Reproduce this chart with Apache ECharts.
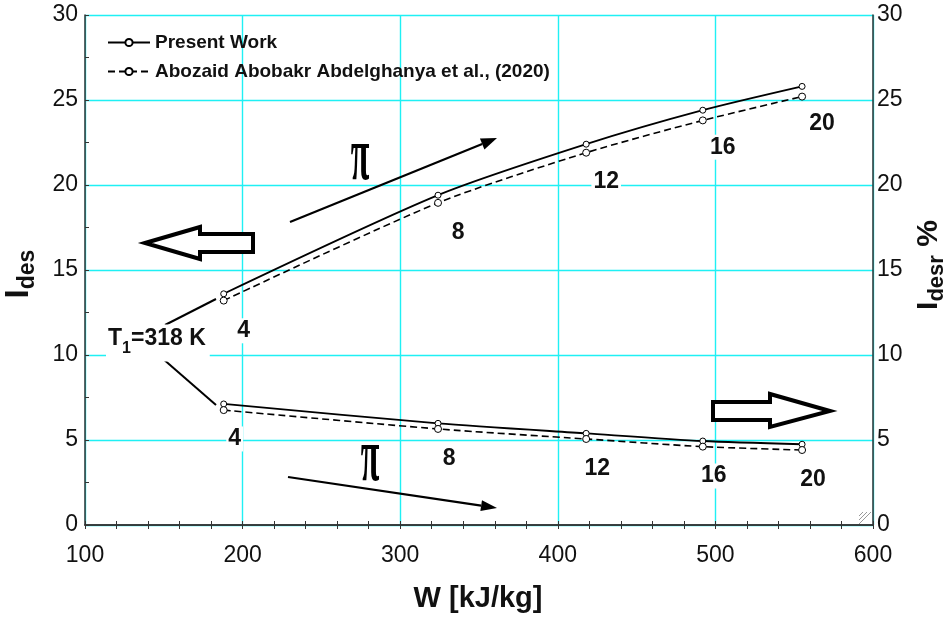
<!DOCTYPE html>
<html>
<head>
<meta charset="utf-8">
<script src="https://cdn.jsdelivr.net/npm/echarts@6/dist/echarts.min.js"></script>
<style>
html,body{margin:0;padding:0;background:#fff;}
#c{width:952px;height:619px;}
</style>
</head>
<body>
<div id="c"></div>
<script>
// ---- data ----
const W = [188, 324, 418, 492, 555];
const presentUpper = [13.6, 19.4, 22.4, 24.4, 25.8];
const refUpper = [13.2, 18.95, 21.9, 23.8, 25.2];
const presentLower = [7.12, 5.98, 5.39, 4.94, 4.75];
const refLower = [6.76, 5.65, 5.06, 4.61, 4.41];
const piLabels = ['4', '8', '12', '16', '20'];
const xTicks = [100, 200, 300, 400, 500, 600];
const yTicks = [0, 5, 10, 15, 20, 25, 30];
const nameP = 'Present Work';
const nameR = 'Abozaid Abobakr Abdelghanya et al., (2020)';

const FONT = '"Liberation Sans", Arial, sans-serif';
const GRIDC = '#1ff0f4';

const chart = echarts.init(document.getElementById('c'), null, {renderer: 'canvas'});

function pts(ys) { return W.map((w, i) => [w, ys[i]]); }

function lineSeries(name, ys, dashed, size, labelOffset) {
  return {
    name: name,
    type: 'line',
    data: pts(ys),
    smooth: 0.25,
    symbol: 'circle',
    symbolSize: size,
    z: 5,
    itemStyle: {color: '#fff', borderColor: '#000', borderWidth: 1},
    lineStyle: {color: '#000', width: dashed ? 1.6 : 1.8, type: dashed ? [7, 4] : 'solid'},
    label: labelOffset ? {
      show: true,
      position: 'inside',
      offset: labelOffset,
      formatter: p => piLabels[p.dataIndex],
      fontFamily: FONT, fontWeight: 'bold', fontSize: 23, color: '#111',
      backgroundColor: '#fff', padding: [1, 2, 1, 2]
    } : {show: false},
    emphasis: {disabled: true}
  };
}

function arrowGroup(x1, y1, x2, y2, hl, hw, w) {
  const dx = x2 - x1, dy = y2 - y1, L = Math.hypot(dx, dy);
  const ux = dx / L, uy = dy / L, nx = -uy, ny = ux;
  const bx = x2 - ux * hl, by = y2 - uy * hl;
  return [
    {type: 'line', shape: {x1: x1, y1: y1, x2: bx, y2: by}, style: {stroke: '#000', lineWidth: w}, z: 10},
    {type: 'polygon', shape: {points: [[x2, y2], [bx + nx * hw, by + ny * hw], [bx - nx * hw, by - ny * hw]]},
     style: {fill: '#000'}, z: 10}
  ];
}

const option = {
  animation: false,
  backgroundColor: '#fff',
  grid: {left: 85, right: 79, top: 15, bottom: 94, containLabel: false},
  legend: {
    data: [nameP, nameR],
    orient: 'vertical',
    left: 107,
    top: 33,
    padding: 0,
    itemWidth: 42,
    itemHeight: 9,
    itemGap: 10,
    textStyle: {fontFamily: FONT, fontWeight: 'bold', fontSize: 19, color: '#111'},
    selectedMode: false
  },
  xAxis: [{
    type: 'value', min: 100, max: 600, interval: 100, position: 'bottom',
    axisLine: {show: true, lineStyle: {color: '#333', width: 1.5}},
    axisTick: {show: true, inside: true, length: 4, lineStyle: {color: '#333'}},
    minorTick: {show: true, splitNumber: 5, length: 4, lineStyle: {color: '#333'}},
    axisLabel: {fontFamily: FONT, fontSize: 23, color: '#111', margin: 19},
    splitLine: {show: true, lineStyle: {color: GRIDC, width: 1.4}}
  }, {
    type: 'value', min: 100, max: 600, interval: 100, position: 'top',
    axisLine: {show: true, lineStyle: {color: '#333', width: 1.5}},
    axisTick: {show: true, inside: true, length: 4, lineStyle: {color: '#333'}},
    minorTick: {show: true, splitNumber: 5, length: 4, lineStyle: {color: '#333'}},
    axisLabel: {show: false},
    splitLine: {show: false}
  }],
  yAxis: [{
    type: 'value', min: 0, max: 30, interval: 5, position: 'left',
    axisLine: {show: true, lineStyle: {color: '#333', width: 1.5}},
    axisTick: {show: true, inside: true, length: 4, lineStyle: {color: '#333'}},
    minorTick: {show: true, splitNumber: 2, length: 4, lineStyle: {color: '#333'}},
    axisLabel: {fontFamily: FONT, fontSize: 23, color: '#111', margin: 7},
    splitLine: {show: true, lineStyle: {color: GRIDC, width: 1.4}}
  }, {
    type: 'value', min: 0, max: 30, interval: 5, position: 'right',
    axisLine: {show: true, lineStyle: {color: '#333', width: 1.5}},
    axisTick: {show: false},
    axisLabel: {fontFamily: FONT, fontSize: 23, color: '#111', margin: 4},
    splitLine: {show: false}
  }],
  series: [
    lineSeries(nameP, presentUpper, false, 6, [20, 37]),
    lineSeries(nameR, refUpper, true, 7, null),
    lineSeries(nameP, presentLower, false, 6, [11, 35]),
    lineSeries(nameR, refLower, true, 7, null)
  ],
  graphic: {elements: []}
};

const g = [];
// diagonal arrows
g.push(...arrowGroup(290, 222, 497, 138, 16, 6, 2.2));
g.push(...arrowGroup(288, 477, 497, 508, 16, 5.5, 2.2));
// hollow block arrows
g.push({type: 'polygon', z: 10,
  shape: {points: [[145, 243], [200, 227], [200, 234], [253, 234], [253, 252], [200, 252], [200, 259]]},
  style: {fill: '#fff', stroke: '#000', lineWidth: 4, lineJoin: 'miter'}});
g.push({type: 'polygon', z: 10,
  shape: {points: [[713, 402], [770, 402], [770, 394], [830, 411], [770, 427], [770, 420], [713, 420]]},
  style: {fill: '#fff', stroke: '#000', lineWidth: 4, lineJoin: 'miter'}});
// pi symbols
[[360, 159], [370, 460]].forEach(p => {
  g.push({type: 'text', x: p[0], y: p[1], scaleX: 0.85, scaleY: 1.9, z: 10,
    style: {text: 'π', fontFamily: '"Liberation Serif", "Times New Roman", serif', fontWeight: 'bold', fontSize: 40,
      fill: '#000', align: 'center', verticalAlign: 'middle'}});
});
// T1 label
g.push({type: 'text', x: 106, y: 343, z: 11,
  style: {text: '{a|T}{s|1}{a|=318 K}', align: 'left', verticalAlign: 'middle',
    backgroundColor: '#fff', padding: [3, 4, 5, 2],
    rich: {
      a: {fontFamily: FONT, fontWeight: 'bold', fontSize: 23, fill: '#111', verticalAlign: 'top', lineHeight: 25},
      s: {fontFamily: FONT, fontWeight: 'bold', fontSize: 16, fill: '#111', verticalAlign: 'bottom', lineHeight: 29}
    }}});
// connectors
g.push({type: 'line', z: 10, shape: {x1: 165, y1: 325, x2: 216, y2: 299}, style: {stroke: '#000', lineWidth: 2}});
g.push({type: 'line', z: 10, shape: {x1: 162, y1: 358, x2: 216, y2: 405}, style: {stroke: '#000', lineWidth: 2}});
// axis titles
g.push({type: 'text', x: 478, y: 599, z: 10,
  style: {text: 'W [kJ/kg]', fontFamily: FONT, fontWeight: 'bold', fontSize: 29, fill: '#111',
    align: 'center', verticalAlign: 'middle'}});
g.push({type: 'text', x: 21, y: 274, rotation: Math.PI / 2, z: 10,
  style: {text: '{a|I}{s|des}', align: 'center', verticalAlign: 'middle',
    rich: {
      a: {fontFamily: FONT, fontWeight: 'bold', fontSize: 33, fill: '#111', verticalAlign: 'top', lineHeight: 33},
      s: {fontFamily: FONT, fontWeight: 'bold', fontSize: 23, fill: '#111', verticalAlign: 'bottom', lineHeight: 37}
    }}});
g.push({type: 'text', x: 931, y: 265, rotation: Math.PI / 2, z: 10,
  style: {text: '{a|I}{s|desr}{a| %}', align: 'center', verticalAlign: 'middle',
    rich: {
      a: {fontFamily: FONT, fontWeight: 'bold', fontSize: 30, fill: '#111', verticalAlign: 'top', lineHeight: 30},
      s: {fontFamily: FONT, fontWeight: 'bold', fontSize: 22, fill: '#111', verticalAlign: 'bottom', lineHeight: 34}
    }}});
// corner grip
[0, 4, 8].forEach(d => {
  g.push({type: 'line', z: 10, shape: {x1: 871 - d, y1: 512, x2: 859, y2: 524 - d},
    style: {stroke: '#999', lineWidth: 1}});
});
option.graphic.elements = g;

chart.setOption(option);
</script>
</body>
</html>
